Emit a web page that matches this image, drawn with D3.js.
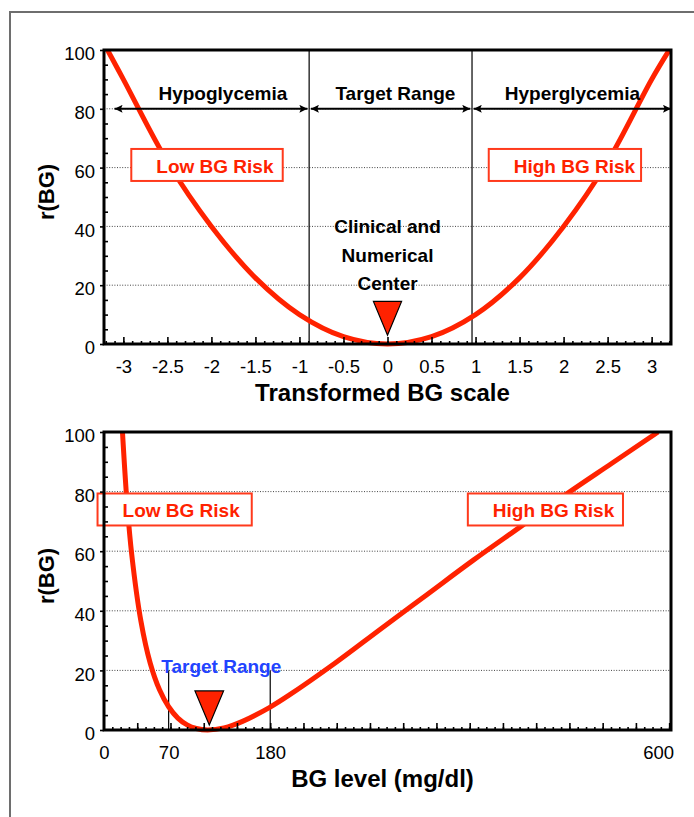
<!DOCTYPE html>
<html>
<head>
<meta charset="utf-8">
<script src="https://cdn.jsdelivr.net/npm/d3@7.9.0/dist/d3.min.js"></script>
<style>
  body { margin: 0; background: #fff; }
  svg { display: block; font-family: "Liberation Sans", Arial, Helvetica, sans-serif; }
</style>
</head>
<body>
<div id="chart"></div>
<script>
// Top panel: risk on the transformed (symmetric) BG scale
const topX = [-3.18, -3, -2.5, -2, -1.5, -1, -0.5, 0, 0.5, 1, 1.5, 2, 2.5, 3, 3.2];
const topRisk = [100, 90, 62, 40, 22.5, 10, 2.5, 0, 2.5, 10, 22.5, 40, 62, 90, 100];
const topTickLabels = [-3, -2.5, -2, -1.5, -1, -0.5, 0, 0.5, 1, 1.5, 2, 2.5, 3];
const zoneBounds = [-0.89, 0.96];
const zoneNames = ['Hypoglycemia', 'Target Range', 'Hyperglycemia'];
const zoneLabelX = [-1.87, 0.09, 2.1];
const zoneArrows = [[-3.1, -0.91], [-0.87, 0.94], [0.98, 3.22]];
const centerNote = ['Clinical and', 'Numerical', 'Center'];

// Bottom panel: the same risk against raw BG (mg/dl)
const bgLevel = [20, 25, 30, 40, 50, 60, 70, 80, 90, 100, 112, 130, 150, 180, 200, 250, 300, 350, 400, 450, 500, 550, 600];
const bgRisk = [100, 76, 59, 36.5, 22.5, 13.6, 7.8, 4, 1.7, 0.5, 0, 0.7, 2.9, 7.7, 11.6, 22.4, 34, 45.5, 57, 68, 79, 89.5, 100];
const bgTickLabels = [0, 70, 180, 600];
const bgTarget = [70, 180];

// shared risk axis
const riskTicks = [0, 20, 40, 60, 80, 100];
const gridTicks = [20, 40, 60, 80];

// risk boxes: label, left, right, vertical centre (data units)
const riskLabels = ['Low BG Risk', 'High BG Risk'];
const topBoxLeft = [-2.91, 1.15];
const topBoxRight = [-1.19, 2.88];
const topBoxRisk = 60.9;
const bgBoxLeft = [-7, 394];
const bgBoxRight = [160, 562];
const bgBoxRisk = 74;

const red = '#ff2200';
const width = 694;
const height = 817;

const svg = d3.select('#chart')
  .append('svg')
  .attr('width', width)
  .attr('height', height);

// arrow head used by the zone arrows
svg.append('defs')
  .append('marker')
  .attr('id', 'head')
  .attr('viewBox', '0 0 10 10')
  .attr('refX', 10)
  .attr('refY', 5)
  .attr('markerWidth', 9)
  .attr('markerHeight', 8)
  .attr('markerUnits', 'userSpaceOnUse')
  .attr('orient', 'auto-start-reverse')
  .append('path')
  .attr('d', 'M0,0L10,5L0,10L2,5Z')
  .attr('fill', '#000');

// grey page frame (top and left only)
svg.append('path')
  .attr('d', `M10,${height}V12H${width}`)
  .attr('fill', 'none')
  .attr('stroke', '#6e6e6e')
  .attr('stroke-width', 2);

// Create the layered group for one panel and draw its dotted gridlines
function makePanel(x, y) {
  const g = svg.append('g');
  const layers = {
    grid: g.append('g'),
    guides: g.append('g'),
    curve: g.append('g'),
    notes: g.append('g'),
    axes: g.append('g'),
  };
  layers.grid.selectAll('line')
    .data(gridTicks)
    .join('line')
    .attr('x1', x.range()[0])
    .attr('x2', x.range()[1])
    .attr('y1', (d) => y(d))
    .attr('y2', (d) => y(d))
    .attr('stroke', '#444')
    .attr('stroke-width', 1)
    .attr('stroke-dasharray', '1 1.6');
  return layers;
}

// Red risk curve, clipped to the plot (a little slack below the axis)
function drawCurve(layer, id, x, y, xs, rs) {
  const [l, r] = x.range();
  const [b, t] = y.range();
  svg.append('clipPath').attr('id', id)
    .append('rect')
    .attr('x', l).attr('y', t)
    .attr('width', r - l).attr('height', b - t + 5);

  const line = d3.line()
    .x((d, i) => x(xs[i]))
    .y((d) => y(d))
    .curve(d3.curveCatmullRom.alpha(0.5));

  layer.append('path')
    .attr('d', line(rs))
    .attr('clip-path', `url(#${id})`)
    .attr('fill', 'none')
    .attr('stroke', red)
    .attr('stroke-width', 5)
    .attr('stroke-linejoin', 'round');
}

// White boxes with red outline holding "Low / High BG Risk"
function drawBoxes(layer, x, y, lefts, rights, risk) {
  riskLabels.forEach((label, i) => {
    const x0 = x(lefts[i]);
    const x1 = x(rights[i]);
    const yc = y(risk);
    layer.append('rect')
      .attr('x', x0).attr('y', yc - 16)
      .attr('width', x1 - x0).attr('height', 32)
      .attr('fill', '#fff')
      .attr('stroke', '#ff3a1c')
      .attr('stroke-width', 2);
    layer.append('text')
      .attr('x', x0 + 25)
      .attr('y', yc + 8)
      .attr('font-size', 19)
      .attr('font-weight', 'bold')
      .attr('fill', red)
      .text(label);
  });
}

// Downward red triangle marking the centre of the scale
function drawMarker(layer, x, y, at, half, topR, tipR) {
  const pts = [[at - half, topR], [at + half, topR], [at, tipR]];
  layer.append('path')
    .attr('d', 'M' + pts.map((p) => `${x(p[0])},${y(p[1])}`).join('L') + 'Z')
    .attr('fill', red)
    .attr('stroke', '#000')
    .attr('stroke-width', 1.2)
    .attr('stroke-linejoin', 'miter');
}

// Ticks, labels, titles and the heavy plot frame
function drawAxes(layer, x, y, minorX, majorX, labelX, xTitle) {
  const [l, r] = x.range();
  const [b, t] = y.range();
  const minorY = d3.range(5, 100, 5).filter((d) => d % 20 !== 0);

  const bottom = (axis) => layer.append('g')
    .attr('transform', `translate(0,${b})`)
    .call(axis);
  const left = (axis) => layer.append('g')
    .attr('transform', `translate(${l},0)`)
    .call(axis);

  bottom(d3.axisBottom(x).tickValues(minorX).tickSize(-3).tickFormat(''));
  bottom(d3.axisBottom(x).tickValues(majorX).tickSize(-7).tickFormat(''));
  bottom(d3.axisBottom(x).tickValues(labelX).tickSize(0).tickPadding(16)
    .tickFormat((d) => String(d)));

  left(d3.axisLeft(y).tickValues(minorY).tickSize(-4).tickFormat(''));
  left(d3.axisLeft(y).tickValues(riskTicks).tickSize(4).tickPadding(5))
    .selectAll('text').attr('dy', '0.52em');

  layer.selectAll('.domain').remove();
  layer.selectAll('g').attr('font-family', null).attr('font-size', 18.5);
  layer.selectAll('.tick line').attr('stroke', '#000').attr('stroke-width', 1.6);
  layer.selectAll('.tick text').attr('fill', '#000');

  layer.append('rect')
    .attr('x', l).attr('y', t)
    .attr('width', r - l).attr('height', b - t)
    .attr('fill', 'none')
    .attr('stroke', '#000')
    .attr('stroke-width', 3);

  layer.append('text')
    .attr('x', (l + r) / 2 - 5)
    .attr('y', b + 57)
    .attr('text-anchor', 'middle')
    .attr('font-size', 24)
    .attr('font-weight', 'bold')
    .text(xTitle);

  layer.append('text')
    .attr('transform', `translate(54,${(t + b) / 2 - 5}) rotate(-90)`)
    .attr('text-anchor', 'middle')
    .attr('font-size', 22)
    .attr('font-weight', 'bold')
    .text('r(BG)');
}

// ---------- top panel ----------
function renderTop() {
  const x = d3.scaleLinear().domain([-3.22, 3.22]).range([104, 671]);
  const y = d3.scaleLinear().domain([0, 100]).range([344, 50]);
  const p = makePanel(x, y);

  // zone boundaries
  p.guides.selectAll('line')
    .data(zoneBounds)
    .join('line')
    .attr('x1', (d) => x(d)).attr('x2', (d) => x(d))
    .attr('y1', y(0)).attr('y2', y(100))
    .attr('stroke', '#000')
    .attr('stroke-width', 1.2);

  // centre note
  const note = p.guides.append('text')
    .attr('x', x(0))
    .attr('y', y(37.6))
    .attr('text-anchor', 'middle')
    .attr('font-size', 19)
    .attr('font-weight', 'bold');
  note.selectAll('tspan')
    .data(centerNote)
    .join('tspan')
    .attr('x', x(0))
    .attr('dy', (d, i) => (i === 0 ? 0 : 28.5))
    .text((d) => d);

  drawCurve(p.curve, 'clip-top', x, y, topX, topRisk);

  // double arrows across each zone, with the zone names above
  p.notes.selectAll('line')
    .data(zoneArrows)
    .join('line')
    .attr('x1', (d) => x(d[0])).attr('x2', (d) => x(d[1]))
    .attr('y1', y(80)).attr('y2', y(80))
    .attr('stroke', '#000')
    .attr('stroke-width', 2)
    .attr('marker-start', 'url(#head)')
    .attr('marker-end', 'url(#head)');

  p.notes.selectAll('text.zone')
    .data(zoneNames)
    .join('text')
    .attr('class', 'zone')
    .attr('x', (d, i) => x(zoneLabelX[i]))
    .attr('y', y(80) - 9)
    .attr('text-anchor', 'middle')
    .attr('font-size', 19)
    .attr('font-weight', 'bold')
    .text((d) => d);

  drawBoxes(p.notes, x, y, topBoxLeft, topBoxRight, topBoxRisk);
  drawMarker(p.notes, x, y, 0, 0.16, 14.5, 3);

  const minor = d3.range(-32, 33).map((d) => d / 10);
  const major = d3.range(-6, 7).map((d) => d / 2);
  drawAxes(p.axes, x, y, minor, major, topTickLabels, 'Transformed BG scale');
}

// ---------- bottom panel ----------
function renderBottom() {
  const x = d3.scaleLinear().domain([0, 614]).range([104, 671]);
  const y = d3.scaleLinear().domain([0, 100]).range([730, 432]);
  const p = makePanel(x, y);

  // target range limits
  p.guides.selectAll('line')
    .data(bgTarget)
    .join('line')
    .attr('x1', (d) => x(d)).attr('x2', (d) => x(d))
    .attr('y1', y(0)).attr('y2', y(20))
    .attr('stroke', '#000')
    .attr('stroke-width', 1.2);

  p.guides.append('text')
    .attr('x', x(127))
    .attr('y', y(20) + 3)
    .attr('text-anchor', 'middle')
    .attr('font-size', 19)
    .attr('font-weight', 'bold')
    .attr('fill', '#2243ff')
    .text('Target Range');

  drawCurve(p.curve, 'clip-bottom', x, y, bgLevel, bgRisk);
  drawBoxes(p.notes, x, y, bgBoxLeft, bgBoxRight, bgBoxRisk);
  drawMarker(p.notes, x, y, 114, 15.5, 13.1, 1.7);

  const minor = d3.range(9, 614, 9);
  const major = d3.range(36, 614, 36);
  drawAxes(p.axes, x, y, minor, major, bgTickLabels, 'BG level (mg/dl)');
}

renderTop();
renderBottom();
</script>
</body>
</html>
